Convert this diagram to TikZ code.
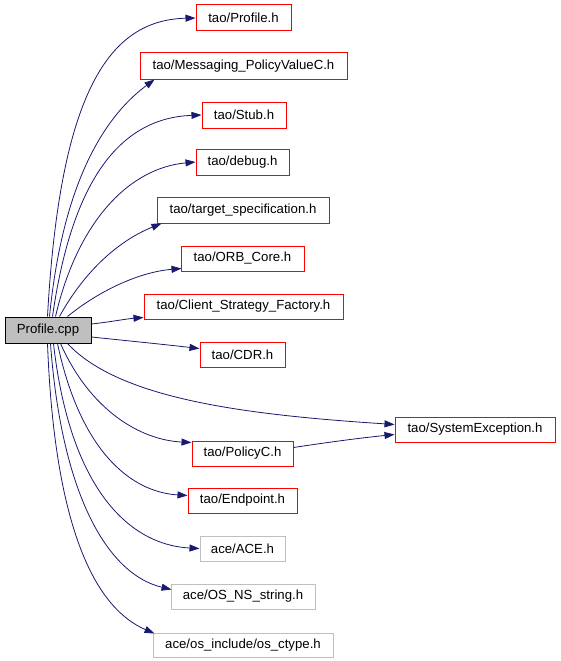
\documentclass[tikz,border=0pt]{standalone}
\usepackage{fontspec}
\setmainfont{Liberation Sans}
\usetikzlibrary{arrows.meta,calc}
\definecolor{edgeblue}{RGB}{25,25,112}
\definecolor{boxgray}{RGB}{191,191,191}
\begin{document}
\begin{tikzpicture}[x=1pt,y=-1pt,
  box/.style={draw=red,line width=1pt,inner sep=0pt,minimum height=26pt,font=\fontsize{13.2}{15}\selectfont},
  acebox/.style={box,draw=boxgray},
  rootbox/.style={box,draw=black,fill=boxgray},
  dep/.style={draw=edgeblue,line width=0.8pt,-{Triangle[length=10pt,width=7pt]}}]
\useasboundingbox (0,0) rectangle (560,661);
\node[rootbox,minimum width=86pt] (cpp) at (48,330) {Profile.cpp};
\node[box,minimum width=95pt] (ph) at (243.5,18) {tao/Profile.h};
\node[box,minimum width=207pt] (msg) at (243.5,66) {tao/Messaging\_PolicyValueC.h};
\node[box,minimum width=84pt] (stub) at (244,115) {tao/Stub.h};
\node[box,minimum width=93pt] (dbg) at (242.5,162) {tao/debug.h};
\node[box,minimum width=172pt] (tgt) at (243,210) {tao/target\_specification.h};
\node[box,minimum width=123pt,minimum height=25pt] (orb) at (242.5,258.5) {tao/ORB\_Core.h};
\node[box,minimum width=199pt,minimum height=25pt] (csf) at (243.5,306.5) {tao/Client\_Strategy\_Factory.h};
\node[box,minimum width=85pt,minimum height=25pt] (cdr) at (242.5,354.5) {tao/CDR.h};
\node[box,minimum width=160pt,minimum height=25pt] (sysx) at (475,429.5) {tao/SystemException.h};
\node[box,minimum width=101pt,minimum height=25pt] (pol) at (242.5,453.5) {tao/PolicyC.h};
\node[box,minimum width=109pt,minimum height=25pt] (ep) at (242.5,500.5) {tao/Endpoint.h};
\node[acebox,minimum width=85pt,minimum height=25pt] (ace) at (242.5,548.5) {ace/ACE.h};
\node[acebox,minimum width=144pt,minimum height=25pt] (osns) at (243,596.5) {ace/OS\_NS\_string.h};
\node[acebox,minimum width=180pt,minimum height=24pt] (ctype) at (243,645) {ace/os\_include/os\_ctype.h};

\draw[dep] ($(cpp.north west)+(43,0)$) .. controls (60,90) and (110,20) .. (ph.west);
\draw[dep] ($(cpp.north west)+(45,0)$) .. controls (62,190) and (100,120) .. ($(msg.south west)+(15,0)$);
\draw[dep] ($(cpp.north west)+(48,0)$) .. controls (72,180) and (120,118) .. (stub.west);
\draw[dep] ($(cpp.north west)+(51,0)$) .. controls (78,220) and (130,168) .. (dbg.west);
\draw[dep] ($(cpp.north west)+(55,0)$) .. controls (85,270) and (120,240) .. ($(tgt.south west)+(5,0)$);
\draw[dep] ($(cpp.north west)+(63,0)$) .. controls (100,290) and (140,272) .. ($(orb.south west)+(1,-3)$);
\draw[dep] ($(cpp.east)+(0,-6)$) .. controls (110,322) and (125,319) .. ($(csf.west)+(0,11)$);
\draw[dep] ($(cpp.east)+(0,7)$) .. controls (120,340) and (160,344) .. ($(cdr.west)+(0,-6)$);
\draw[dep] ($(cpp.south west)+(63,0)$) .. controls (120,400) and (250,415) .. ($(sysx.west)+(0,-5)$);
\draw[dep] ($(pol.east)+(0,-6)$) .. controls (330,442) and (360,438) .. ($(sysx.west)+(0,5)$);
\draw[dep] ($(cpp.south west)+(56,0)$) .. controls (90,410) and (140,440) .. ($(pol.north west)+(0,2)$);
\draw[dep] ($(cpp.south west)+(53,0)$) .. controls (80,450) and (130,492) .. ($(ep.west)+(0,-5)$);
\draw[dep] ($(cpp.south west)+(49,0)$) .. controls (70,490) and (130,545) .. (ace.west);
\draw[dep] ($(cpp.south west)+(46,0)$) .. controls (62,500) and (110,575) .. ($(osns.north west)+(1,6)$);
\draw[dep] ($(cpp.south west)+(43,0)$) .. controls (55,540) and (100,610) .. ($(ctype.north west)+(2,1)$);
\end{tikzpicture}
\end{document}
